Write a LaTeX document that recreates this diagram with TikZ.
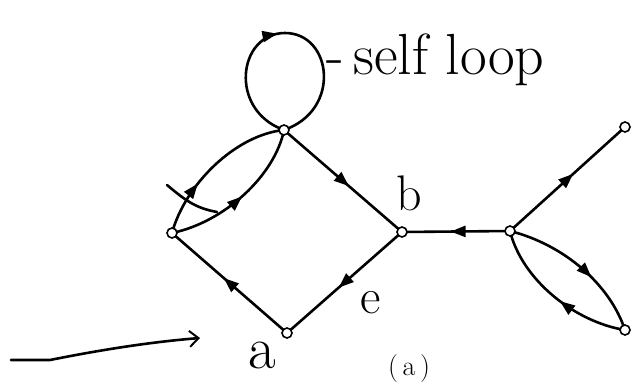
\documentclass[tikz,border=0pt]{standalone}
\usepackage{fontspec}
\usetikzlibrary{arrows.meta,decorations.markings}
\begin{document}
\begin{tikzpicture}[x=1pt,y=-1pt,
  vtx/.style={circle,draw,fill=white,line width=1.6pt,inner sep=0pt,minimum size=10pt},
  edge/.style={line width=2.6pt},
  midarrow/.style={postaction={decorate},decoration={markings,mark=at position #1 with {\arrow{Triangle[length=15pt,width=11pt]}}}},
  revarrow/.style={postaction={decorate},decoration={markings,mark=at position #1 with {\arrowreversed{Triangle[length=15pt,width=11pt]}}}},
  hand/.style={line width=2.6pt,line cap=round,line join=round},
  lbl/.style={inner sep=0pt}]
\useasboundingbox (0,0) rectangle (631,383);
\coordinate (T) at (284,130);
\coordinate (L) at (172,233);
\coordinate (A) at (287,333);
\coordinate (B) at (402,232);
\coordinate (R) at (510,231);
\coordinate (UR) at (625,127);
\coordinate (LR) at (625,330);
% self loop
\draw[edge,midarrow=0.47] (T) .. controls (228,110) and (238,33) .. (285,33) .. controls (332,33) and (342,110) .. (T);
% double edge L-T
\draw[edge,midarrow=0.35] (L) .. controls (185,185) and (235,135) .. (T);
\draw[edge,midarrow=0.5] (L) .. controls (225,222) and (275,175) .. (T);
% tick
\draw[hand] (167,185) .. controls (185,200) and (195,208) .. (217,212);
% diamond
\draw[edge,midarrow=0.55] (T) -- (B);
\draw[edge,midarrow=0.55] (B) -- (A);
\draw[edge,midarrow=0.55] (A) -- (L);
% right part
\draw[edge,midarrow=0.55] (R) -- (B);
\draw[edge,midarrow=0.55] (R) -- (UR);
\draw[edge,midarrow=0.6] (R) .. controls (565,245) and (610,285) .. (LR);
\draw[edge,revarrow=0.55] (R) .. controls (522,280) and (575,322) .. (LR);
% vertices
\node[vtx] (nT) at (T) {};
\node[vtx] (nL) at (L) {};
\node[vtx] (nA) at (A) {};
\node[vtx] (nB) at (B) {};
\node[vtx] (nR) at (R) {};
\node[vtx] (nUR) at (UR) {};
\node[vtx] (nLR) at (LR) {};
% labels
\node[lbl,anchor=base west] (sl) at (326,74) {\fontsize{58}{60}\selectfont -\,self loop};
\node[lbl,anchor=base] (lb) at (409,210) {\fontsize{50}{52}\selectfont b};
\node[lbl,anchor=base] (le) at (371,313) {\fontsize{50}{52}\selectfont e};
\node[lbl,anchor=base] (la) at (262,368) {\fontsize{60}{62}\selectfont a};
\node[lbl,anchor=base] (lcap) at (409,375) {\fontsize{28}{30}\selectfont (\,a\,)};
% hand arrow
\coordinate (h0) at (11,360);
\coordinate (h1) at (200,338);
\draw[hand,-{Straight Barb[length=9pt,width=16pt,line width=2pt]}] (h0) -- (50,360) .. controls (100,350) and (150,342) .. (h1);
\end{tikzpicture}
\end{document}
